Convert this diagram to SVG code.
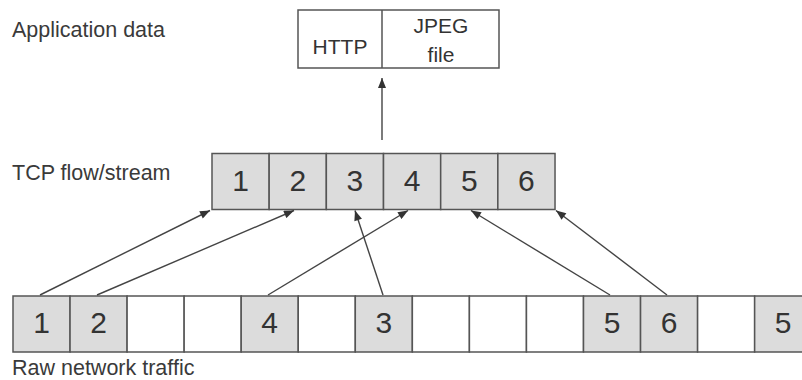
<svg xmlns="http://www.w3.org/2000/svg" width="802" height="380" viewBox="0 0 802 380">
<defs>
<style>
.lbl{font-family:"Liberation Sans",Arial,sans-serif;font-size:21.5px;fill:#3a3a3a}
.box{fill:#ffffff;stroke:#555;stroke-width:1.5}
.g{fill:#dcdcdc;stroke:#555;stroke-width:1.5}
.w{fill:#ffffff;stroke:#555;stroke-width:1.5}
.num{font-family:"Liberation Sans",Arial,sans-serif;font-size:30px;fill:#333;text-anchor:middle}
.app{font-family:"Liberation Sans",Arial,sans-serif;font-size:21px;fill:#333;text-anchor:middle}
.conn{stroke:#444;stroke-width:1.4;fill:none;marker-end:url(#ah)}
</style>
<marker id="ah" viewBox="0 0 10 8" refX="10" refY="4" markerWidth="11" markerHeight="8" markerUnits="userSpaceOnUse" orient="auto">
<path d="M0,0 L10,4 L0,8 z" fill="#333"/>
</marker>
</defs>
<rect width="802" height="380" fill="#ffffff"/>
<text class="lbl" x="12" y="37">Application data</text>
<text class="lbl" x="12" y="180">TCP flow/stream</text>
<text class="lbl" x="12" y="374.5">Raw network traffic</text>
<g id="app-data">
<rect class="box" x="298" y="10" width="201" height="58"/>
<line x1="382" y1="10" x2="382" y2="68" stroke="#555" stroke-width="1.5"/>
<text class="app" x="340" y="54">HTTP</text>
<text class="app" x="441" y="33">JPEG</text>
<text class="app" x="441" y="62">file</text>
</g>
<g id="tcp-stream">
<rect class="g" x="212" y="153.5" width="57.17" height="56"/>
<rect class="g" x="269.17" y="153.5" width="57.17" height="56"/>
<rect class="g" x="326.34" y="153.5" width="57.17" height="56"/>
<rect class="g" x="383.51" y="153.5" width="57.17" height="56"/>
<rect class="g" x="440.68" y="153.5" width="57.17" height="56"/>
<rect class="g" x="497.85" y="153.5" width="57.17" height="56"/>
<text class="num" x="240.6" y="191">1</text>
<text class="num" x="297.8" y="191">2</text>
<text class="num" x="354.9" y="191">3</text>
<text class="num" x="412.1" y="191">4</text>
<text class="num" x="469.3" y="191">5</text>
<text class="num" x="526.4" y="191">6</text>
</g>
<g id="raw-traffic">
<rect class="g" x="13" y="296" width="57.05" height="56"/>
<rect class="g" x="70.05" y="296" width="57.05" height="56"/>
<rect class="w" x="127.1" y="296" width="57.05" height="56"/>
<rect class="w" x="184.15" y="296" width="57.05" height="56"/>
<rect class="g" x="241.2" y="296" width="57.05" height="56"/>
<rect class="w" x="298.25" y="296" width="57.05" height="56"/>
<rect class="g" x="355.3" y="296" width="57.05" height="56"/>
<rect class="w" x="412.35" y="296" width="57.05" height="56"/>
<rect class="w" x="469.4" y="296" width="57.05" height="56"/>
<rect class="w" x="526.45" y="296" width="57.05" height="56"/>
<rect class="g" x="583.5" y="296" width="57.05" height="56"/>
<rect class="g" x="640.55" y="296" width="57.05" height="56"/>
<rect class="w" x="697.6" y="296" width="57.05" height="56"/>
<rect class="g" x="754.65" y="296" width="57.05" height="56"/>
<text class="num" x="41.5" y="333">1</text>
<text class="num" x="98.6" y="333">2</text>
<text class="num" x="269.7" y="333">4</text>
<text class="num" x="383.8" y="333">3</text>
<text class="num" x="612" y="333">5</text>
<text class="num" x="669.1" y="333">6</text>
<text class="num" x="783.2" y="333">5</text>
</g>
<g id="connectors">
<line class="conn" x1="382" y1="140" x2="382" y2="78"/>
<line class="conn" x1="40" y1="295" x2="210" y2="210.5"/>
<line class="conn" x1="97" y1="295" x2="294" y2="210.5"/>
<line class="conn" x1="268" y1="295" x2="408" y2="210.5"/>
<line class="conn" x1="383" y1="295" x2="355" y2="210.5"/>
<line class="conn" x1="610" y1="295" x2="471" y2="210.5"/>
<line class="conn" x1="667" y1="295" x2="556" y2="210.5"/>
</g>
</svg>
